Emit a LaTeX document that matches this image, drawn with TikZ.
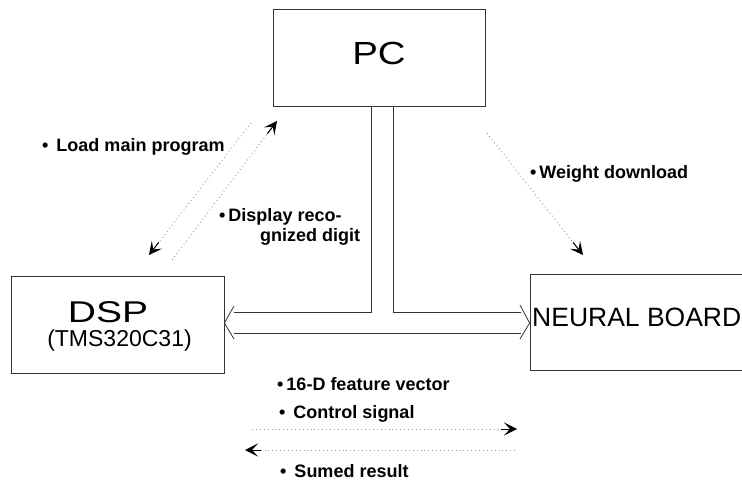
\documentclass[tikz,border=0pt]{standalone}
\usepackage{fontspec}
\setmainfont{Liberation Sans}
\usepackage{graphicx}
\usetikzlibrary{arrows.meta,calc}
\begin{document}
\begin{tikzpicture}[x=1pt,y=-1pt,
  box/.style={draw=black!80, line width=0.8pt, rectangle, inner sep=0pt},
  lbl/.style={anchor=base west, inner sep=0pt, font=\fontsize{18}{20}\selectfont\bfseries},
  bus/.style={draw=black!80, line width=0.8pt, line join=miter},
  flow/.style={draw=black!40, line width=0.9pt, dash pattern=on 0.9pt off 3pt},
  head/.style={draw=black, fill=black, solid, line width=1pt,
    -{Stealth[length=13pt,width=13pt,inset=6pt]}}
]
\useasboundingbox (0,0) rectangle (742,481);
% boxes
\node[box, minimum width=212pt, minimum height=97pt] (pc) at (379,57.5) {};
\node[box, minimum width=213pt, minimum height=97pt] (dsp) at (117.5,324.5) {};
\node[box, minimum width=230pt, minimum height=96pt] (nb) at (645,322) {};
% box texts
\node[anchor=base, inner sep=0pt, font=\fontsize{32}{34}\selectfont] (pct) at (379,65) {\scalebox{1.2}[1]{PC}};
\node[anchor=base, inner sep=0pt, font=\fontsize{30}{32}\selectfont] (dspt) at (108,323) {\scalebox{1.3}[1]{DSP}};
\node[anchor=base, inner sep=0pt, font=\fontsize{23}{25}\selectfont] (dspt2) at (119.5,346) {(TMS320C31)};
\node[anchor=base west, inner sep=0pt, font=\fontsize{26.5}{29}\selectfont] (nbt) at (532,326) {NEURAL BOARD};
% bus
\coordinate (bl) at ([xshift=-8pt]pc.south);
\coordinate (br) at ([xshift=14pt]pc.south);
\coordinate (lu) at (234,312);
\coordinate (ll) at (234,333);
\coordinate (ru) at (521,312);
\coordinate (rl) at (521,333);
\draw[bus] (bl) |- (lu);
\draw[bus] (br) |- (ru);
\draw[bus] (ll) -- (rl);
\draw[bus] (234,306) -- (dsp.east |- 0,323) -- (234,339);
\draw[bus] (520,305) -- (nb.west |- 0,323) -- (520,339);
% dotted flows
\coordinate (up0) at (172,260);
\coordinate (up1) at (277,121);
\coordinate (dn0) at (251,123);
\coordinate (dn1) at (149,255);
\coordinate (w0) at (487,133);
\coordinate (w1) at (583,255);
\coordinate (r0) at (252,429);
\coordinate (r1) at (517,429);
\coordinate (l0) at (515,450);
\coordinate (l1) at (245,450);
\foreach \a/\b in {up0/up1, dn0/dn1, w0/w1, r0/r1, l0/l1}{
  \draw[flow] (\a) -- ($(\b)!8pt!(\a)$);
  \draw[head] ($(\b)!16pt!(\a)$) -- (\b);
}
% labels
\node[lbl] (t1) at (42,152) {•\ \,Load main program};
\node[lbl] (t2) at (530,179) {•\,Weight download};
\node[lbl] (t3) at (219,222) {•\,Display reco-};
\node[lbl] (t4) at (260,242) {gnized digit};
\node[lbl] (t5) at (277,390) {•\,16-D feature vector};
\node[lbl] (t6) at (279,418) {•\ \,Control signal};
\node[lbl] (t7) at (280,477) {•\ \,Sumed result};
\end{tikzpicture}
\end{document}
